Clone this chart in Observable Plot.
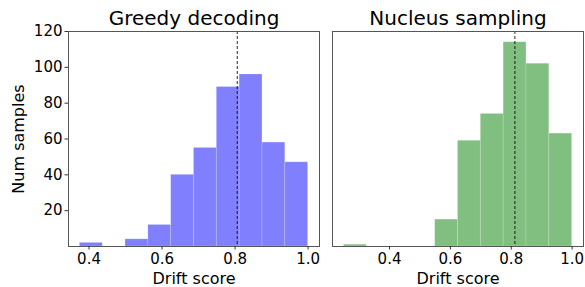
<!DOCTYPE html>
<html>
<head>
<meta charset="utf-8">
<script src="https://cdn.jsdelivr.net/npm/d3@7"></script>
<script src="https://cdn.jsdelivr.net/npm/@observablehq/plot@0.6"></script>
<style>
  html, body { margin: 0; padding: 0; background: #fff; }
  #chart { position: relative; width: 585px; height: 287px; font-family: "DejaVu Sans", sans-serif; }
  #chart svg { position: absolute; top: 0; overflow: visible; background: transparent; }
</style>
</head>
<body>
<div id="chart"></div>
<script>
// ---- data ----
const greedyTitle = "Greedy decoding";
const nucleusTitle = "Nucleus sampling";
const xLabel = "Drift score";
const yLabel = "Num samples";

const greedyEdges = [0.375, 0.4375, 0.5, 0.5625, 0.625, 0.6875, 0.75, 0.8125, 0.875, 0.9375, 1.0];
const greedyCounts = [2, 0, 4, 12, 40, 55, 89, 96, 58, 47];
const greedyMean = 0.806;

const nucleusEdges = [0.25, 0.325, 0.4, 0.475, 0.55, 0.625, 0.7, 0.775, 0.85, 0.925, 1.0];
const nucleusCounts = [1, 0, 0, 0, 15, 59, 74, 114, 102, 63];
const nucleusMean = 0.812;

const xTicks = [0.4, 0.6, 0.8, 1.0];
const yTicks = [20, 40, 60, 80, 100, 120];

const greedyColor = "#8080ff";
const nucleusColor = "#80bf80";

function bins(edges, counts) {
  return counts.map((c, i) => ({x1: edges[i], x2: edges[i + 1], count: c}));
}

function panel({title, edges, counts, mean, color, width, marginLeft, marginRight, showY, xDomain}) {
  const data = bins(edges, counts).filter(d => d.count > 0);
  const marks = [
    Plot.rectY(data, {x1: "x1", x2: "x2", y1: 0, y2: "count", fill: color, stroke: "white", strokeOpacity: 0.2, strokeWidth: 0.8, inset: 0}),
    Plot.ruleX([mean], {stroke: "black", strokeOpacity: 0.85, strokeWidth: 1, strokeDasharray: "3,2"}),
    Plot.frame({stroke: "#555", strokeWidth: 1}),
    Plot.axisX(xTicks, {tickSize: 3.5, tickPadding: 3, tickFormat: d3.format(".1f"), fontSize: 15, label: null, stroke: "#333"}),
    Plot.text([title], {frameAnchor: "top", dy: -13, fontSize: 20, lineAnchor: "middle", textAnchor: "middle", fill: "black"}),
    Plot.text([xLabel], {frameAnchor: "bottom", dy: 32, fontSize: 16, lineAnchor: "middle", textAnchor: "middle", fill: "black"})
  ];
  if (showY) {
    marks.push(Plot.axisY(yTicks, {tickSize: 3.5, tickPadding: 2.5, fontSize: 15, label: null, stroke: "#333"}));
    marks.push(Plot.text([yLabel], {frameAnchor: "left", dx: -50, rotate: -90, fontSize: 16, lineAnchor: "middle", textAnchor: "middle", fill: "black"}));
  }
  return Plot.plot({
    width,
    height: 287,
    marginLeft,
    marginRight,
    marginTop: 31,
    marginBottom: 41,
    style: {fontFamily: "DejaVu Sans, sans-serif", fontSize: "15px", color: "black", background: "transparent"},
    x: {domain: xDomain, axis: null},
    y: {domain: [0, 120], axis: null},
    marks
  });
}

const left = panel({
  title: greedyTitle, edges: greedyEdges, counts: greedyCounts, mean: greedyMean, color: greedyColor,
  width: 325, marginLeft: 68, marginRight: 6, showY: true,
  xDomain: [greedyEdges[0] - 0.03125, 1.03125]
});
left.style.left = "0px";

const right = panel({
  title: nucleusTitle, edges: nucleusEdges, counts: nucleusCounts, mean: nucleusMean, color: nucleusColor,
  width: 260, marginLeft: 7, marginRight: 2, showY: false,
  xDomain: [nucleusEdges[0] - 0.0375, 1.0375]
});
right.style.left = "325px";

const chart = document.getElementById("chart");
chart.appendChild(left);
chart.appendChild(right);
</script>
</body>
</html>
